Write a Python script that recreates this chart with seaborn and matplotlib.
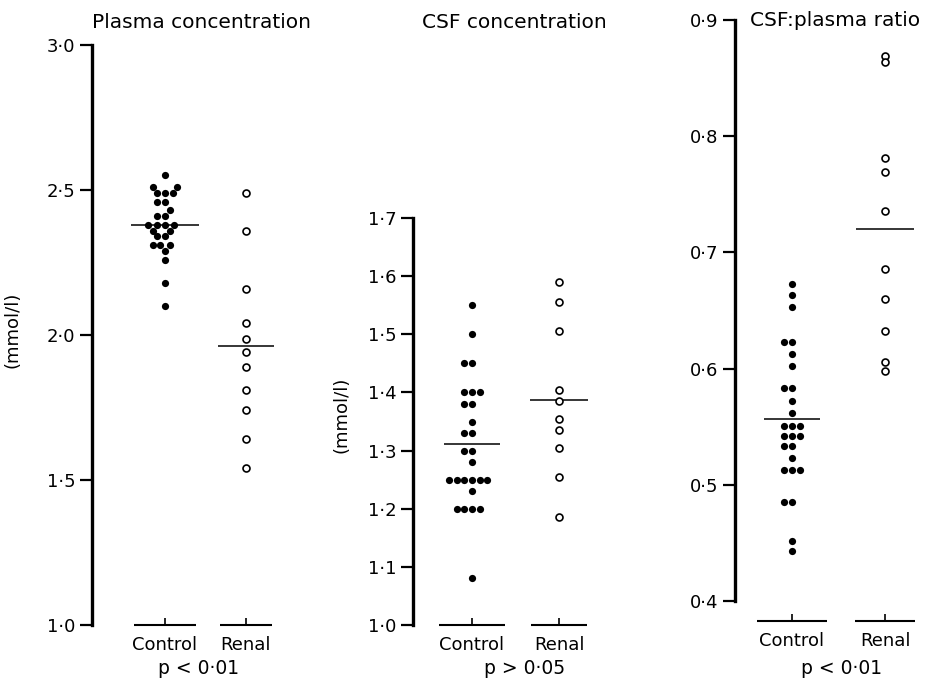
import numpy as np
import pandas as pd
import matplotlib
matplotlib.use("Agg")
import matplotlib.pyplot as plt
import seaborn as sns

# values
groups = ["Control", "Renal"]

plasma_control = [2.55, 2.51, 2.51, 2.49, 2.49, 2.49, 2.46, 2.46, 2.43, 2.41, 2.41,
                  2.38, 2.38, 2.38, 2.38, 2.36, 2.36, 2.34, 2.34, 2.31, 2.31, 2.31,
                  2.29, 2.26, 2.18, 2.10]
plasma_renal = [2.49, 2.36, 2.16, 2.04, 1.985, 1.94, 1.89, 1.81, 1.74, 1.64, 1.54]

csf_control = [1.55, 1.50, 1.45, 1.45, 1.40, 1.40, 1.40, 1.38, 1.38, 1.35, 1.33, 1.33,
               1.30, 1.30, 1.28, 1.25, 1.25, 1.25, 1.25, 1.25, 1.25, 1.23,
               1.20, 1.20, 1.20, 1.20, 1.08]
csf_renal = [1.59, 1.555, 1.505, 1.405, 1.385, 1.355, 1.335, 1.305, 1.255, 1.185]

ratio_control = [0.673, 0.663, 0.653, 0.623, 0.623, 0.613, 0.602, 0.583, 0.583, 0.572,
                 0.562, 0.551, 0.551, 0.551, 0.542, 0.542, 0.542, 0.533, 0.533, 0.523,
                 0.513, 0.513, 0.513, 0.485, 0.485, 0.452, 0.443]
ratio_renal = [0.869, 0.864, 0.781, 0.769, 0.736, 0.686, 0.660, 0.632, 0.606, 0.598]

plasma_ticks = [1.0, 1.5, 2.0, 2.5, 3.0]
csf_ticks = [1.0, 1.1, 1.2, 1.3, 1.4, 1.5, 1.6, 1.7]
ratio_ticks = [0.4, 0.5, 0.6, 0.7, 0.8, 0.9]

titles = ["Plasma concentration", "CSF concentration", "CSF:plasma ratio"]
p_texts = ["p < 0·01", "p > 0·05", "p < 0·01"]
ylabel = "(mmol/l)"

sns.set_theme(style="white")
plt.rcParams['font.family'] = ['DejaVu Sans']
plt.rcParams['font.size'] = 13
for key in ['text.color', 'axes.labelcolor', 'xtick.color', 'ytick.color']:
    plt.rcParams[key] = 'black'

W, H = 931, 688
fig = plt.figure(figsize=(W / 100, H / 100), dpi=100)

# layout in pixels: spine x, control x, renal x, right edge, y of bottom, y of top,
# value at bottom edge, value at top tick
panels = [
    dict(ctrl=plasma_control, ren=plasma_renal, ticks=plasma_ticks, title=titles[0],
         p=p_texts[0], spine=92, cx=165, rx=246, right=290, ybot=625, ytop=45,
         vbot=1.0, vtop=3.0, tx=92, ty=23, px=199, ylab=(22, 330), mean_hw=(0.42, 0.34)),
    dict(ctrl=csf_control, ren=csf_renal, ticks=csf_ticks, title=titles[1],
         p=p_texts[1], spine=413, cx=472, rx=559, right=610, ybot=625, ytop=218,
         vbot=1.0, vtop=1.7, tx=422, ty=22, px=525, ylab=(351, 415), mean_hw=(0.32, 0.33)),
    dict(ctrl=ratio_control, ren=ratio_renal, ticks=ratio_ticks, title=titles[2],
         p=p_texts[2], spine=735, cx=792, rx=885, right=931, ybot=621, ytop=20,
         vbot=0.3828, vtop=0.9, tx=750, ty=20, px=842, ylab=None, mean_hw=(0.30, 0.31)),
]

for pn in panels:
    left = pn["spine"] / W
    width = (pn["right"] - pn["spine"]) / W
    bottom = 1 - pn["ybot"] / H
    height = (pn["ybot"] - pn["ytop"]) / H
    ax = fig.add_axes([left, bottom, width, height])

    df = pd.DataFrame({
        "group": ["Control"] * len(pn["ctrl"]) + ["Renal"] * len(pn["ren"]),
        "value": pn["ctrl"] + pn["ren"],
    })

    sns.swarmplot(data=df[df.group == "Control"], x="group", y="value", order=groups,
                  color="black", size=5.2, ax=ax, zorder=3)
    sns.stripplot(data=df[df.group == "Renal"], x="group", y="value", order=groups,
                  jitter=False, color="white", edgecolor="black", linewidth=1.2,
                  size=5.0, ax=ax, zorder=3)

    spacing = pn["rx"] - pn["cx"]
    ax.set_xlim(-(pn["cx"] - pn["spine"]) / spacing, 1 + (pn["right"] - pn["rx"]) / spacing)
    ax.set_ylim(pn["vbot"], pn["vtop"])

    # group means
    for i, g in enumerate(groups):
        m = df.loc[df.group == g, "value"].mean()
        hw = pn["mean_hw"][i]
        ax.hlines(m, i - hw, i + hw, color="black", lw=1.1, zorder=1)

    # baseline segments under each group
    for i, hw in enumerate([0.38, 0.32]):
        ax.hlines(pn["vbot"], i - hw, i + hw, color="black", lw=1.5, clip_on=False)

    ax.set_yticks(pn["ticks"])
    ax.set_yticklabels([f"{t:.1f}".replace(".", "·") for t in pn["ticks"]])
    ax.set_xticks([0, 1])
    ax.set_xticklabels(groups)
    ax.tick_params(axis="y", direction="out", length=9, width=1.6, pad=3,
                   left=True, labelsize=13, color="black")
    ax.tick_params(axis="x", direction="in", length=5, width=1.2, pad=8,
                   bottom=True, labelsize=13, color="black")

    for s in ["top", "right", "bottom"]:
        ax.spines[s].set_visible(False)
    ax.spines["left"].set_linewidth(2.4)
    ax.spines["left"].set_color("black")
    ax.spines["left"].set_bounds(pn["ticks"][0], pn["ticks"][-1])
    ax.patch.set_alpha(0)

    ax.set_xlabel("")
    if pn["ylab"] is not None:
        ax.set_ylabel(ylabel, fontsize=13)
        ax.yaxis.set_label_coords((pn["ylab"][0] - pn["spine"]) / (pn["right"] - pn["spine"]),
                                  (pn["ybot"] - pn["ylab"][1]) / (pn["ybot"] - pn["ytop"]))
    else:
        ax.set_ylabel("")

    fig.text(pn["tx"] / W, 1 - pn["ty"] / H, pn["title"], ha="left", va="center", fontsize=14.5)
    fig.text(pn["px"] / W, 1 - 668 / H, pn["p"], ha="center", va="center", fontsize=13.5)

fig.savefig("out.png", dpi=100)
